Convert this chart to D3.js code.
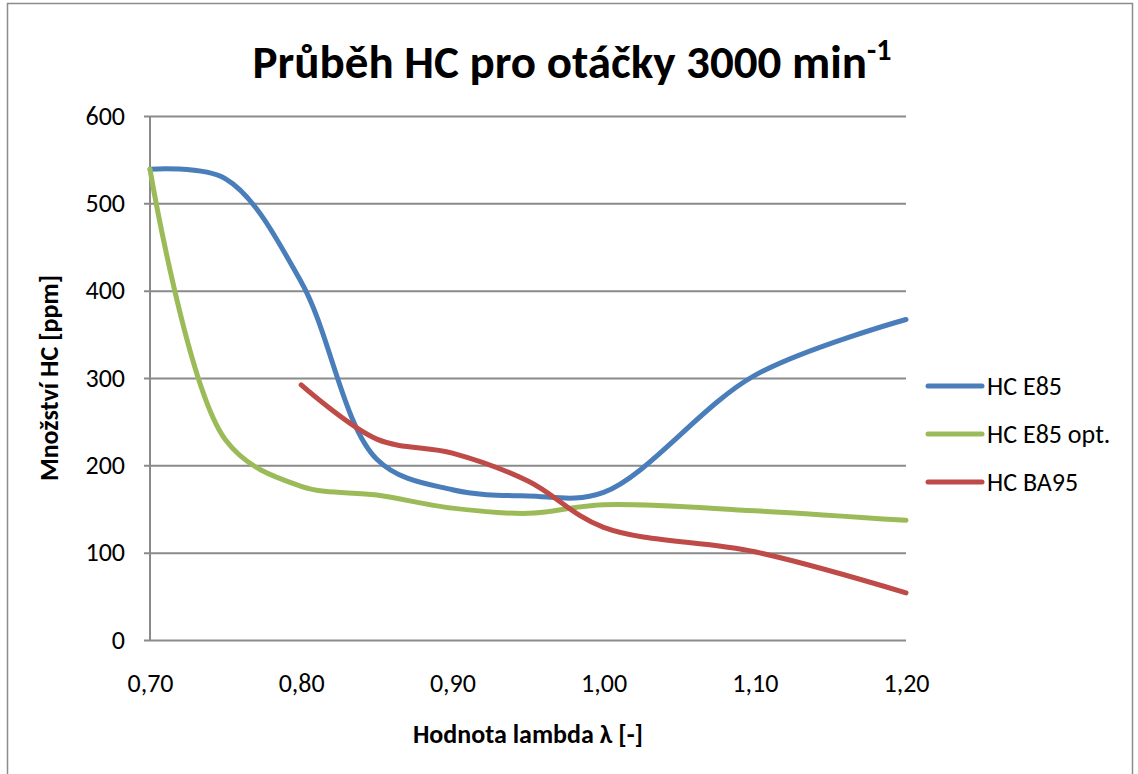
<!DOCTYPE html>
<html>
<head>
<meta charset="utf-8">
<script src="https://cdn.jsdelivr.net/npm/d3@7"></script>
<style>
  body { margin: 0; background: #fff; }
  text { font-family: Carlito, Lato, "Open Sans", sans-serif; fill: #000; }
</style>
</head>
<body>
<div id="chart-area"></div>
<script>
// Data ---------------------------------------------------
const lambdaE85 = [0.70, 0.75, 0.80, 0.85, 0.90, 0.95, 1.00, 1.10, 1.20]
const hcE85     = [539, 528, 410, 207, 172, 165, 169, 303, 367]
const hcE85opt  = [539, 229, 176, 166, 151, 145, 155, 148, 137]
const lambdaBA95 = [0.80, 0.85, 0.90, 0.95, 1.00, 1.10, 1.20]
const hcBA95     = [292, 230, 214, 182, 129, 101, 54]

const seriesNames = ["HC E85", "HC E85 opt.", "HC BA95"]
const seriesColors = ["#4A7EBB", "#9BBB59", "#BE4B48"]
const xTicks = [0.70, 0.80, 0.90, 1.00, 1.10, 1.20]
const yTicks = [0, 100, 200, 300, 400, 500, 600]

// Canvas setup -------------------------------------------
const WIDTH = 1138
const HEIGHT = 774
const PLOT = {LEFT: 150, RIGHT: 906, TOP: 116, BOTTOM: 640}
const FONT = "Carlito, Lato, 'Open Sans', sans-serif"

const svg = d3.select("#chart-area").append("svg")
  .attr("width", WIDTH)
  .attr("height", HEIGHT)

// outer frame
svg.append("rect")
  .attr("x", 7.5).attr("y", 3.5)
  .attr("width", 1125).attr("height", 800)
  .attr("fill", "none")
  .attr("stroke", "#8c8c8c")
  .attr("stroke-width", 1.5)

const xScale = d3.scaleLinear().domain([0.70, 1.20]).range([PLOT.LEFT, PLOT.RIGHT])
const yScale = d3.scaleLinear().domain([0, 600]).range([PLOT.BOTTOM, PLOT.TOP])

// Grid + axes --------------------------------------------
const yAxis = d3.axisLeft(yScale)
  .tickValues(yTicks)
  .tickSize(-(PLOT.RIGHT - PLOT.LEFT))
  .tickPadding(25)
  .tickFormat(d3.format("d"))

const gy = svg.append("g")
  .attr("transform", `translate(${PLOT.LEFT}, 0)`)
  .call(yAxis)
gy.select(".domain").remove()
gy.selectAll(".tick line")
  .attr("x1", -6)
  .attr("stroke", "#8a8a8a")
  .attr("stroke-width", 2)
gy.selectAll(".tick text")
  .attr("font-size", "26px")
  .attr("font-family", FONT)
  .attr("fill", "#000")

// left axis line
svg.append("line")
  .attr("x1", PLOT.LEFT).attr("x2", PLOT.LEFT)
  .attr("y1", PLOT.TOP).attr("y2", PLOT.BOTTOM)
  .attr("stroke", "#8a8a8a")
  .attr("stroke-width", 2)

const xAxis = d3.axisBottom(xScale)
  .tickValues(xTicks)
  .tickSize(0)
  .tickPadding(34)
  .tickFormat(d => d3.format(".2f")(d).replace(".", ","))

const gx = svg.append("g")
  .attr("transform", `translate(0, ${PLOT.BOTTOM})`)
  .call(xAxis)
gx.select(".domain").remove()
gx.selectAll(".tick text")
  .attr("font-size", "26px")
  .attr("font-family", FONT)
  .attr("fill", "#000")

// Lines --------------------------------------------------
const line = d3.line()
  .x(d => xScale(d[0]))
  .y(d => yScale(d[1]))
  .curve(d3.curveCatmullRom.alpha(0.5))

const seriesData = [
  d3.zip(lambdaE85, hcE85),
  d3.zip(lambdaE85, hcE85opt),
  d3.zip(lambdaBA95, hcBA95)
]

svg.append("g").selectAll("path")
  .data(seriesData)
  .join("path")
    .attr("d", line)
    .attr("fill", "none")
    .attr("stroke", (d, i) => seriesColors[i])
    .attr("stroke-width", 5)
    .attr("stroke-linecap", "round")
    .attr("stroke-linejoin", "round")

// Legend -------------------------------------------------
const legend = svg.append("g")
  .attr("transform", "translate(928, 386)")

const items = legend.selectAll("g")
  .data(seriesNames)
  .join("g")
    .attr("transform", (d, i) => `translate(0, ${i * 48})`)

items.append("line")
  .attr("x1", 0).attr("x2", 54)
  .attr("stroke", (d, i) => seriesColors[i])
  .attr("stroke-width", 5)
  .attr("stroke-linecap", "round")

items.append("text")
  .attr("x", 59)
  .attr("y", 9)
  .attr("font-size", "26px")
  .text(d => d)

// Titles -------------------------------------------------
const title = svg.append("text")
  .attr("x", 572)
  .attr("y", 78)
  .attr("text-anchor", "middle")
  .attr("font-size", "47px")
  .attr("font-weight", "bold")
title.append("tspan").text("Průběh HC pro otáčky 3000 min")
title.append("tspan")
  .attr("font-size", "30px")
  .attr("dy", -18)
  .text("-1")

svg.append("text")
  .attr("transform", "translate(58, 378) rotate(-90)")
  .attr("text-anchor", "middle")
  .attr("font-size", "26px")
  .attr("font-weight", "bold")
  .text("Množství HC [ppm]")

svg.append("text")
  .attr("x", 528)
  .attr("y", 743)
  .attr("text-anchor", "middle")
  .attr("font-size", "26px")
  .attr("font-weight", "bold")
  .text("Hodnota lambda λ [-]")
</script>
</body>
</html>
